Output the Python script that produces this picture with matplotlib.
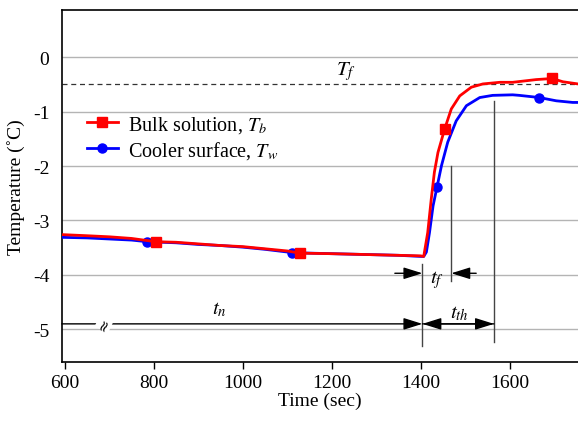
import numpy as np
import matplotlib
matplotlib.use('Agg')
import matplotlib.pyplot as plt

plt.rcParams['font.family'] = ['Liberation Serif', 'DejaVu Serif']
plt.rcParams['mathtext.fontset'] = 'stix'
plt.rcParams['axes.unicode_minus'] = False

# bulk solution T_b
red_t = [595, 650, 700, 750, 804, 850, 900, 950, 1000, 1050, 1100, 1128, 1200, 1250, 1300,
         1350, 1400, 1407, 1416, 1424, 1431, 1439, 1454, 1469, 1488, 1514, 1540, 1578, 1607,
         1660, 1696, 1720, 1754]
red_v = [-3.26, -3.28, -3.30, -3.33, -3.39, -3.40, -3.43, -3.46, -3.48, -3.52, -3.56, -3.60,
         -3.61, -3.62, -3.63, -3.64, -3.65, -3.66, -3.22, -2.60, -2.11, -1.75, -1.32, -0.95,
         -0.71, -0.55, -0.49, -0.46, -0.46, -0.41, -0.39, -0.45, -0.49]
red_marks = [804, 1128, 1454, 1696]

# cooler surface T_w
blue_t = [595, 650, 700, 750, 785, 850, 900, 950, 1000, 1050, 1111, 1150, 1200, 1250, 1300,
          1350, 1400, 1407, 1413, 1420, 1428, 1437, 1447, 1461, 1480, 1503, 1533, 1562, 1607,
          1622, 1667, 1705, 1742, 1754]
blue_v = [-3.31, -3.32, -3.34, -3.36, -3.39, -3.41, -3.44, -3.46, -3.49, -3.53, -3.59, -3.60,
          -3.61, -3.62, -3.63, -3.64, -3.66, -3.66, -3.58, -3.22, -2.73, -2.38, -1.99, -1.56,
          -1.17, -0.89, -0.74, -0.70, -0.69, -0.70, -0.74, -0.80, -0.83, -0.83]
blue_marks = [785, 1111, 1437, 1667]

T_f = -0.5
t_start = 1404   # end of t_n
t_freeze = 1469  # end of t_f
t_thermal = 1565 # end of t_th

fig = plt.figure(figsize=(5.78, 4.27), dpi=100)
ax = fig.add_axes([0.107, 0.150, 0.893, 0.825])

for y in range(-5, 1):
    ax.axhline(y, color='#b4b4b4', lw=1, zorder=0)
ax.axhline(T_f, color='#333333', lw=0.9, ls=(0, (4, 3)), zorder=1)
ax.text(1233, -0.25, '$T_f$', ha='center', va='center', fontsize=15)

ax.plot(blue_t, blue_v, color='#0000ff', lw=2, marker='o', ms=6.5,
        markevery=[blue_t.index(m) for m in blue_marks], label='Cooler surface, $T_w$', zorder=3)
ax.plot(red_t, red_v, color='#ff0000', lw=2, marker='s', ms=7,
        markevery=[red_t.index(m) for m in red_marks], label='Bulk solution, $T_b$', zorder=3)

h, l = ax.get_legend_handles_labels()
ax.legend(h[::-1], l[::-1], loc='upper left', bbox_to_anchor=(0.022, 0.744), frameon=False,
          fontsize=14.5, handlelength=1.5, handletextpad=0.5, labelspacing=0.2,
          borderaxespad=0.3)

# vertical markers
ax.plot([t_start, t_start], [-3.80, -5.30], color='#444444', lw=1)
ax.plot([t_freeze, t_freeze], [-1.99, -4.12], color='#444444', lw=1)
ax.plot([t_thermal, t_thermal], [-0.80, -5.23], color='#444444', lw=1)

arw = dict(arrowstyle='-|>,head_length=1.15,head_width=0.36', color='black', lw=1,
           shrinkA=0, shrinkB=0)
y_n = -4.9
ax.annotate('', xy=(t_start, y_n), xytext=(593, y_n), arrowprops=arw)
ax.annotate('', xy=(t_start, y_n), xytext=(t_thermal, y_n), arrowprops=arw)
ax.annotate('', xy=(t_thermal, y_n), xytext=(t_start, y_n), arrowprops=arw)
ax.text(688, y_n, '\u2248', rotation=65, ha='center', va='center', fontsize=11,
        family='DejaVu Sans', bbox=dict(fc='white', ec='none', pad=0))
ax.text(948, -4.63, '$t_n$', ha='center', va='center', fontsize=15)
ax.text(1488, -4.70, '$t_{th}$', ha='center', va='center', fontsize=15)

y_f = -3.97
ax.annotate('', xy=(t_start, y_f), xytext=(1342, y_f), arrowprops=arw)
ax.annotate('', xy=(t_freeze, y_f), xytext=(1525, y_f), arrowprops=arw)
ax.text(1436, -4.08, '$t_f$', ha='center', va='center', fontsize=15)

ax.set_xlim(593, 1754)
ax.set_ylim(-5.60, 0.875)
ax.set_xticks([600, 800, 1000, 1200, 1400, 1600])
ax.set_yticks([0, -1, -2, -3, -4, -5])
ax.tick_params(axis='x', direction='out', length=5, width=1, labelsize=14, pad=4)
ax.tick_params(axis='y', length=0, labelsize=14, pad=9)
ax.spines['right'].set_visible(False)
for s in ['left', 'top', 'bottom']:
    ax.spines[s].set_linewidth(1.2)
ax.set_xlabel('Time (sec)', fontsize=14, labelpad=0)
ax.set_ylabel('Temperature (\u02daC)', fontsize=14, labelpad=6)

fig.savefig('out.png', dpi=100)
